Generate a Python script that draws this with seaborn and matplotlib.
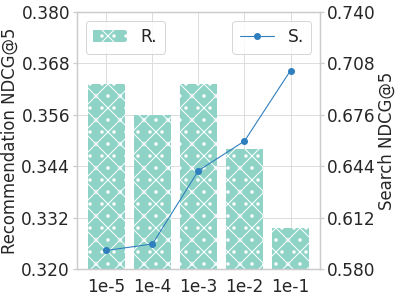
import numpy as np
import pandas as pd
import matplotlib
matplotlib.use("Agg")
import matplotlib.pyplot as plt
import seaborn as sns

# values
lambdas = ['1e-5', '1e-4', '1e-3', '1e-2', '1e-1']
rec_ndcg = [0.3633, 0.3560, 0.3633, 0.3481, 0.3297]
search_ndcg = [0.5916, 0.5956, 0.6413, 0.6597, 0.7036]
left_ticks = [0.320, 0.332, 0.344, 0.356, 0.368, 0.380]
right_ticks = [0.580, 0.612, 0.644, 0.676, 0.708, 0.740]

sns.set_theme(style='whitegrid')
plt.rcParams['font.family'] = ['DejaVu Sans']
plt.rcParams['hatch.linewidth'] = 1.0
plt.rcParams['hatch.color'] = 'white'

df = pd.DataFrame({'lam': lambdas, 'rec': rec_ndcg, 'search': search_ndcg})

fig, ax = plt.subplots(figsize=(395 / 72, 295 / 72), dpi=72)
fig.subplots_adjust(left=0.195, right=0.81, top=0.959, bottom=0.088)

sns.barplot(data=df, x='lam', y='rec', color='#8fd3c7', saturation=1,
            width=0.8, hatch='x.', edgecolor='white', linewidth=0,
            label='R.', ax=ax)
ax.set_xlim(-0.64, 4.64)
ax.set_ylim(0.320, 0.380)
ax.set_yticks(left_ticks)
ax.set_yticklabels(['%.3f' % t for t in left_ticks])
ax.set_xlabel('')
ax.set_ylabel('Recommendation NDCG@5', fontsize=16.5, labelpad=2)
ax.tick_params(axis='both', labelsize=17, colors='#262626', pad=3)
ax.tick_params(axis='y', left=True, length=4, color='#cccccc')
ax.grid(True, color='#dddddd', linewidth=1)
ax.set_axisbelow(True)
ax.legend(loc='upper left', fontsize=17, handlelength=2.0, borderpad=0.45)

ax2 = ax.twinx()
sns.lineplot(data=df, x='lam', y='search', marker='o', color='#2f7fbf',
             markersize=7, linewidth=1.1, markeredgewidth=0, label='S.', ax=ax2)
ax2.set_ylim(0.580, 0.740)
ax2.set_yticks(right_ticks)
ax2.set_yticklabels(['%.3f' % t for t in right_ticks])
ax2.grid(False)
ax2.set_ylabel('Search NDCG@5', fontsize=16.5, labelpad=2)
ax2.set_xlabel('')
ax2.tick_params(axis='y', labelsize=17, right=True, length=4, pad=3,
                color='#cccccc', colors='#262626')
ax2.legend(loc='upper right', fontsize=17, handlelength=2.0, borderpad=0.45)

fig.savefig('out.png', dpi=72)
